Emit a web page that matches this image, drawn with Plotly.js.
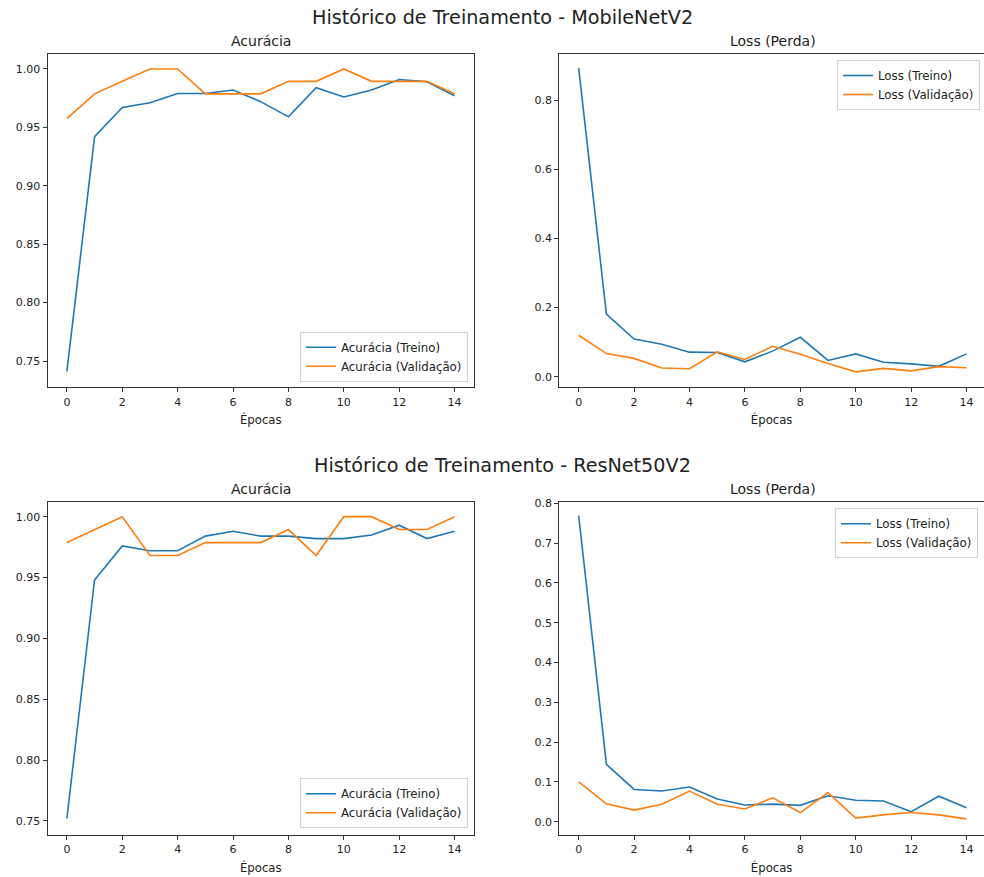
<!DOCTYPE html>
<html>
<head>
<meta charset="utf-8">
<script src="https://cdn.plot.ly/plotly-3.0.1.min.js"></script>
<style>html,body{margin:0;padding:0;background:#fff;}#chart{width:984px;height:877px;}</style>
</head>
<body>
<div id="chart"></div>
<script>
// ---- data ----
const epochs = [0,1,2,3,4,5,6,7,8,9,10,11,12,13,14];

const mobileAccTrain = [0.741,0.942,0.967,0.971,0.979,0.979,0.982,0.972,0.959,0.984,0.976,0.982,0.991,0.989,0.977];
const mobileAccVal   = [0.9574,0.9787,0.9894,1.0,1.0,0.9787,0.9787,0.9787,0.9894,0.9894,1.0,0.9894,0.9894,0.9894,0.9787];
const mobileLossTrain = [0.893,0.181,0.109,0.094,0.071,0.070,0.043,0.074,0.114,0.047,0.066,0.042,0.037,0.030,0.066];
const mobileLossVal   = [0.120,0.067,0.053,0.025,0.023,0.072,0.050,0.088,0.065,0.038,0.014,0.024,0.017,0.029,0.026];

const resAccTrain = [0.752,0.948,0.976,0.972,0.972,0.984,0.988,0.984,0.984,0.982,0.982,0.985,0.993,0.982,0.988];
const resAccVal   = [0.9787,0.9894,1.0,0.9681,0.9681,0.9787,0.9787,0.9787,0.9894,0.9681,1.0,1.0,0.9894,0.9894,1.0];
const resLossTrain = [0.769,0.144,0.081,0.077,0.087,0.057,0.042,0.044,0.041,0.065,0.054,0.052,0.025,0.064,0.035];
const resLossVal   = [0.100,0.045,0.029,0.044,0.077,0.044,0.032,0.060,0.023,0.073,0.009,0.017,0.023,0.017,0.007];

const suptitles = ["Histórico de Treinamento - MobileNetV2","Histórico de Treinamento - ResNet50V2"];
const subtitles = ["Acurácia","Loss (Perda)"];
const xLabel = "Épocas";
const accNames = ["Acurácia (Treino)","Acurácia (Validação)"];
const lossNames = ["Loss (Treino)","Loss (Validação)"];

// ---- styling ----
const BLUE = "#1f77b4", ORANGE = "#ff7f0e";
const FONT = "DejaVu Sans, sans-serif";
const W = 984, H = 877;
const px = v => v / W;
const py = v => (H - v) / H;

function tr(x, y, name, color, xa, ya, leg) {
  return {x: x, y: y, name: name, type: "scatter", mode: "lines",
          line: {color: color, width: 1.6}, xaxis: xa, yaxis: ya, legend: leg};
}

const data = [
  tr(epochs, mobileAccTrain, accNames[0], BLUE, "x", "y", "legend"),
  tr(epochs, mobileAccVal, accNames[1], ORANGE, "x", "y", "legend"),
  tr(epochs, mobileLossTrain, lossNames[0], BLUE, "x2", "y2", "legend2"),
  tr(epochs, mobileLossVal, lossNames[1], ORANGE, "x2", "y2", "legend2"),
  tr(epochs, resAccTrain, accNames[0], BLUE, "x3", "y3", "legend3"),
  tr(epochs, resAccVal, accNames[1], ORANGE, "x3", "y3", "legend3"),
  tr(epochs, resLossTrain, lossNames[0], BLUE, "x4", "y4", "legend4"),
  tr(epochs, resLossVal, lossNames[1], ORANGE, "x4", "y4", "legend4")
];

const tickFont = {family: FONT, size: 11, color: "#222"};
function xax(dom, range, anchor) {
  return {domain: dom, range: range, anchor: anchor, tickvals: [0,2,4,6,8,10,12,14],
          showline: true, mirror: true, linecolor: "#333", linewidth: 1,
          ticks: "outside", ticklen: 4, tickcolor: "#333", showgrid: false, zeroline: false,
          tickfont: tickFont,
          title: {text: xLabel, font: {family: FONT, size: 11.7, color: "#222"}, standoff: 8}};
}
function yax(dom, range, anchor, dtick, fmt) {
  return {domain: dom, range: range, anchor: anchor, dtick: dtick, tick0: 0, tickformat: fmt,
          showline: true, mirror: true, linecolor: "#333", linewidth: 1,
          ticks: "outside", ticklen: 4, tickcolor: "#333", showgrid: false, zeroline: false,
          tickfont: tickFont};
}

const xL = [px(47.5), px(474)], xR = [px(559.3), 1];
const yT = [py(387.3), py(54)], yB = [py(834.7), py(501.7)];

function legend(x, y, xanchor, yanchor) {
  return {x: x, y: y, xanchor: xanchor, yanchor: yanchor, xref: "paper", yref: "paper",
          bgcolor: "rgba(255,255,255,0.85)", bordercolor: "#d0d0d0", borderwidth: 1,
          font: {family: FONT, size: 11.8, color: "#222"},
          itemwidth: 30, tracegroupgap: 0};
}

function ann(text, x, y, size) {
  return {text: text, x: x, y: y, xref: "paper", yref: "paper", showarrow: false,
          xanchor: "center", yanchor: "middle", font: {family: FONT, size: size, color: "#222"}};
}

const layout = {
  width: W, height: H, margin: {l: 0, r: 0, t: 0, b: 0},
  paper_bgcolor: "#fff", plot_bgcolor: "#fff", showlegend: true,
  font: {family: FONT},
  xaxis: xax(xL, [-0.7, 14.7], "y"),
  yaxis: yax(yT, [0.7275, 1.0128], "x", 0.05, ".2f"),
  xaxis2: xax(xR, [-0.7, 14.63], "y2"),
  yaxis2: yax(yT, [-0.0307, 0.934], "x2", 0.2, ".1f"),
  xaxis3: xax(xL, [-0.7, 14.7], "y3"),
  yaxis3: yax(yB, [0.7387, 1.0123], "x3", 0.05, ".2f"),
  xaxis4: xax(xR, [-0.7, 14.63], "y4"),
  yaxis4: yax(yB, [-0.0327, 0.804], "x4", 0.1, ".1f"),
  legend: legend(px(468), py(381.7), "right", "bottom"),
  legend2: legend(px(980), py(60), "right", "top"),
  legend3: legend(px(468), py(828.3), "right", "bottom"),
  legend4: legend(px(978), py(508.3), "right", "top"),
  annotations: [
    ann(suptitles[0], px(502), py(17), 19.2),
    ann(subtitles[0], px(260.8), py(41), 14),
    ann(subtitles[1], px(772.6), py(41), 14),
    ann(suptitles[1], px(502), py(465), 19.2),
    ann(subtitles[0], px(260.8), py(489), 14),
    ann(subtitles[1], px(772.6), py(489), 14)
  ]
};

Plotly.newPlot("chart", data, layout, {displayModeBar: false, staticPlot: true});
</script>
</body>
</html>
